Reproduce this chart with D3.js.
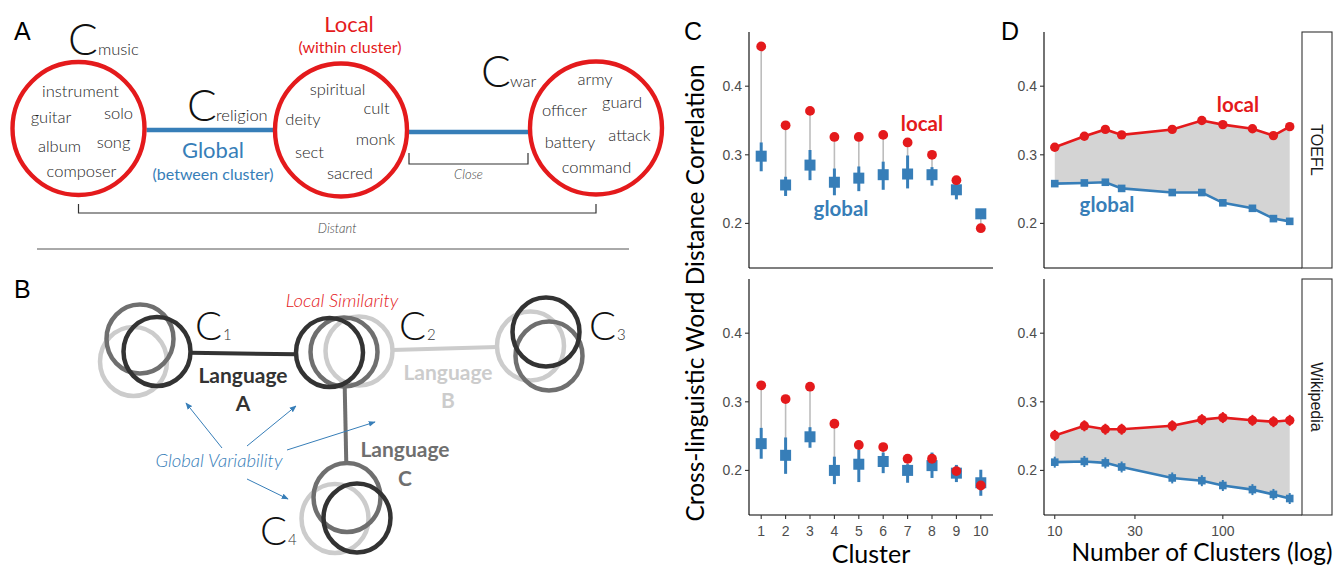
<!DOCTYPE html>
<meta charset="utf-8">
<script src="https://d3js.org/d3.v7.min.js"></script>
<style>
  body { margin: 0; background: #fff; }
  text { font-family: Lato, "Open Sans", sans-serif; }
  .tick text, .num { font-family: "Liberation Sans", Arial, sans-serif; }
</style>
<body>
<div id="fig"></div>
<script>
// ---------- data ----------
// panel C: per cluster correlations
const clusters = [1, 2, 3, 4, 5, 6, 7, 8, 9, 10];
const toeflLocal    = [0.458, 0.343, 0.364, 0.326, 0.326, 0.329, 0.318, 0.300, 0.263, 0.193];
const toeflGlobal   = [0.298, 0.256, 0.285, 0.260, 0.266, 0.271, 0.272, 0.271, 0.249, 0.214];
const toeflGlobalLo = [0.276, 0.240, 0.263, 0.241, 0.247, 0.249, 0.251, 0.255, 0.235, 0.208];
const toeflGlobalHi = [0.318, 0.268, 0.307, 0.280, 0.283, 0.290, 0.299, 0.282, 0.257, 0.220];
const wikiLocal     = [0.324, 0.304, 0.322, 0.268, 0.237, 0.234, 0.217, 0.217, 0.199, 0.178];
const wikiGlobal    = [0.239, 0.222, 0.249, 0.200, 0.209, 0.213, 0.200, 0.207, 0.196, 0.182];
const wikiGlobalLo  = [0.217, 0.195, 0.233, 0.180, 0.183, 0.196, 0.182, 0.189, 0.183, 0.163];
const wikiGlobalHi  = [0.262, 0.248, 0.263, 0.220, 0.230, 0.226, 0.209, 0.226, 0.208, 0.201];

// panel D: by number of clusters
const nClusters  = [10, 15, 20, 25, 50, 75, 100, 150, 200, 250];
const toeflLocalN  = [0.311, 0.327, 0.337, 0.329, 0.337, 0.350, 0.344, 0.338, 0.328, 0.341];
const toeflGlobalN = [0.258, 0.259, 0.260, 0.251, 0.245, 0.245, 0.230, 0.222, 0.207, 0.203];
const wikiLocalN   = [0.251, 0.265, 0.260, 0.260, 0.265, 0.274, 0.277, 0.273, 0.271, 0.273];
const wikiGlobalN  = [0.212, 0.213, 0.211, 0.205, 0.189, 0.185, 0.178, 0.172, 0.165, 0.159];
const wikiErrN     = [0.008, 0.008, 0.008, 0.008, 0.008, 0.008, 0.008, 0.008, 0.008, 0.008];

const yTicks = [0.2, 0.3, 0.4];
const xTicksN = [10, 30, 100];
const facets = ["TOEFL", "Wikipedia"];

// panel A / B words and labels
const musicWords    = ["instrument", "guitar", "solo", "album", "song", "composer"];
const religionWords = ["spiritual", "cult", "deity", "monk", "sect", "sacred"];
const warWords      = ["army", "officer", "guard", "battery", "attack", "command"];
const clusterNames  = ["music", "religion", "war"];
const languages     = ["A", "B", "C"];

const RED = "#e41a1c", BLUE = "#377eb8";

const svg = d3.select("#fig").append("svg")
  .attr("width", 1338).attr("height", 570);

// panel letters
[["A", 14, 40], ["B", 14, 298], ["C", 684, 40], ["D", 1001, 40]].forEach(([t, x, y]) =>
  svg.append("text").attr("class", "num").attr("x", x).attr("y", y)
    .attr("font-size", 25).text(t));

// ================= Panel A =================
const gA = svg.append("g");
const aCircles = [{ cx: 78.5, cy: 128.5 }, { cx: 341, cy: 130 }, { cx: 596, cy: 128 }];
const aR = 66;
// word offsets relative to circle centres
const aWordPos = [
  [[2, -31.5], [-27.5, -5.5], [40, -9.5], [-19, 23.5], [35, 19.5], [3, 48.5]],
  [[-3.5, -35], [35.5, -16], [-38, -5], [34.5, 15], [-31.5, 28], [9, 49]],
  [[-1, -43], [-31.5, -12], [26, -20], [-26, 20], [33.5, 13], [0.5, 45]]
];
const wordSets = [musicWords, religionWords, warWords];

// blue links
gA.append("line").attr("x1", aCircles[0].cx + aR + 2).attr("x2", aCircles[1].cx - aR - 2)
  .attr("y1", 130).attr("y2", 130).attr("stroke", BLUE).attr("stroke-width", 4.5);
gA.append("line").attr("x1", aCircles[1].cx + aR + 2).attr("x2", aCircles[2].cx - aR - 2)
  .attr("y1", 132).attr("y2", 132).attr("stroke", BLUE).attr("stroke-width", 4.5);

gA.selectAll("ellipse.cl").data(aCircles).join("ellipse")
  .attr("cx", d => d.cx).attr("cy", d => d.cy).attr("rx", aR).attr("ry", aR + 0.5)
  .attr("fill", "none").attr("stroke", RED).attr("stroke-width", 4.4);

wordSets.forEach((words, i) => {
  gA.selectAll(null).data(words).join("text")
    .attr("x", (d, j) => aCircles[i].cx + aWordPos[i][j][0])
    .attr("y", (d, j) => aCircles[i].cy + aWordPos[i][j][1])
    .attr("text-anchor", "middle").attr("font-size", 16.5).attr("font-weight", 300)
    .attr("fill", "#1e1e1e").text(d => d);
});

// cluster name labels  (big C + name)
const cLabelPos = [[68, 55, 98, 55], [187, 121, 216, 121], [481, 87, 510, 87]];
clusterNames.forEach((n, i) => {
  const p = cLabelPos[i];
  gA.append("text").attr("x", p[0]).attr("y", p[1]).attr("font-size", 44)
    .attr("font-weight", 300).attr("fill", "#111").text("C");
  gA.append("text").attr("x", p[2]).attr("y", p[3]).attr("font-size", 16.5)
    .attr("font-weight", 300).attr("fill", "#1e1e1e").text(n);
});

// Local / Global headings
gA.append("text").attr("x", 349).attr("y", 32).attr("text-anchor", "middle")
  .attr("font-size", 22).attr("fill", RED).text("Local");
gA.append("text").attr("x", 350).attr("y", 53).attr("text-anchor", "middle")
  .attr("font-size", 16).attr("fill", RED).text("(within cluster)");
gA.append("text").attr("x", 213).attr("y", 158).attr("text-anchor", "middle")
  .attr("font-size", 22).attr("fill", BLUE).text("Global");
gA.append("text").attr("x", 213).attr("y", 180).attr("text-anchor", "middle")
  .attr("font-size", 16).attr("fill", BLUE).text("(between cluster)");

// brackets
function bracket(x1, x2, y, h, label, ly) {
  gA.append("path").attr("d", `M${x1},${y - h}V${y}H${x2}V${y - h}`)
    .attr("fill", "none").attr("stroke", "#333").attr("stroke-width", 1.2);
  gA.append("text").attr("x", (x1 + x2) / 2).attr("y", ly).attr("text-anchor", "middle")
    .attr("font-size", 13).attr("font-style", "italic").attr("font-weight", 300)
    .attr("fill", "#444").text(label);
}
bracket(aCircles[1].cx + aR + 2, aCircles[2].cx - aR - 2, 164, 11, "Close", 179);
bracket(aCircles[0].cx, aCircles[2].cx, 213, 9, "Distant", 233);

// separator
svg.append("line").attr("x1", 37).attr("x2", 629).attr("y1", 249).attr("y2", 249)
  .attr("stroke", "#555").attr("stroke-width", 1);

// ================= Panel B =================
const gB = svg.append("g");
const langColor = { A: "#333333", B: "#cccccc", C: "#6f6f6f" };
const bR = 33;
// circle centres per cluster, per language
const bClusters = [
  { A: [157, 351.5], B: [133.5, 361.5], C: [140, 339] },
  { A: [329.5, 352.5], B: [359, 351], C: [344, 352] },
  { A: [546, 332], B: [530.5, 346], C: [549, 356] },
  { A: [357, 518], B: [335, 518.5], C: [347, 497.5] }
];
// language links: which clusters each language connects
const bLinks = [["A", 0, 1], ["B", 1, 2], ["C", 1, 3]];
bLinks.forEach(([l, i, j]) => {
  const p = bClusters[i][l], q = bClusters[j][l];
  const dx = q[0] - p[0], dy = q[1] - p[1], len = Math.hypot(dx, dy);
  const ux = dx / len, uy = dy / len;
  gB.append("line")
    .attr("x1", p[0] + ux * bR).attr("y1", p[1] + uy * bR + (l === "A" ? 1 : 0))
    .attr("x2", q[0] - ux * bR).attr("y2", q[1] - uy * bR + (l === "A" ? 2 : 0))
    .attr("stroke", langColor[l]).attr("stroke-width", 4);
});
const drawOrder = ["B", "C", "A"];
bClusters.forEach(c => {
  drawOrder.forEach(l => {
    gB.append("ellipse").attr("cx", c[l][0]).attr("cy", c[l][1])
      .attr("rx", bR + 0.5).attr("ry", bR + 1.5)
      .attr("fill", "none").attr("stroke", langColor[l]).attr("stroke-width", 4.5);
  });
});
// C1..C4 labels
const bLabelPos = [[195, 340], [399, 340], [589, 340], [260, 545]];
bLabelPos.forEach((p, i) => {
  const t = gB.append("text").attr("x", p[0]).attr("y", p[1]).attr("fill", "#111");
  t.append("tspan").attr("font-size", 40).attr("font-weight", 300).text("C");
  t.append("tspan").attr("font-size", 15).attr("font-weight", 300).attr("dx", 1)
    .attr("fill", "#333").text(String(i + 1));
});
// language labels
const langLabelPos = { A: [243, 383, 411], B: [448, 380, 408], C: [405, 457, 486] };
languages.forEach(l => {
  const p = langLabelPos[l];
  gB.append("text").attr("x", p[0]).attr("y", p[1]).attr("text-anchor", "middle")
    .attr("font-size", 21).attr("font-weight", 700).attr("fill", langColor[l]).text("Language");
  gB.append("text").attr("x", p[0]).attr("y", p[2]).attr("text-anchor", "middle")
    .attr("font-size", 21).attr("font-weight", 700).attr("fill", langColor[l]).text(l);
});
gB.append("text").attr("x", 342).attr("y", 307).attr("text-anchor", "middle")
  .attr("font-size", 18.5).attr("font-style", "italic").attr("font-weight", 300)
  .attr("fill", RED).text("Local Similarity");
gB.append("text").attr("x", 219).attr("y", 467).attr("text-anchor", "middle")
  .attr("font-size", 18.5).attr("font-style", "italic").attr("font-weight", 300)
  .attr("fill", BLUE).text("Global Variability");
// arrows
svg.append("defs").append("marker").attr("id", "ah").attr("viewBox", "0 0 10 10")
  .attr("refX", 9).attr("refY", 5).attr("markerWidth", 7).attr("markerHeight", 7)
  .attr("orient", "auto").append("path").attr("d", "M0,1L10,5L0,9z").attr("fill", BLUE);
const arrows = [[222, 448, 186, 403], [247, 446, 296, 406], [287, 450, 375, 422], [247, 479, 288, 499]];
gB.selectAll("line.arr").data(arrows).join("line")
  .attr("x1", d => d[0]).attr("y1", d => d[1]).attr("x2", d => d[2]).attr("y2", d => d[3])
  .attr("stroke", BLUE).attr("stroke-width", 1).attr("marker-end", "url(#ah)");

// ================= Panels C & D =================
const panelY = [[268, 32], [515, 279]];
const yDomain = [0.135, 0.479];

function yAxis(g, y, x0) {
  g.append("line").attr("x1", x0).attr("x2", x0).attr("y1", y.range()[0]).attr("y2", y.range()[1])
    .attr("stroke", "#000").attr("stroke-width", 1.1);
  yTicks.forEach(v => {
    g.append("line").attr("x1", x0 - 4).attr("x2", x0).attr("y1", y(v)).attr("y2", y(v))
      .attr("stroke", "#333").attr("stroke-width", 1.1);
    g.append("text").attr("class", "num").attr("x", x0 - 7).attr("y", y(v) + 5)
      .attr("text-anchor", "end").attr("font-size", 14).attr("fill", "#4d4d4d").text(v.toFixed(1));
  });
}

// ---- C ----
const xC = d3.scalePoint().domain(clusters).range([749, 993]).padding(0.5);
const cData = [
  { local: toeflLocal, global: toeflGlobal, lo: toeflGlobalLo, hi: toeflGlobalHi },
  { local: wikiLocal, global: wikiGlobal, lo: wikiGlobalLo, hi: wikiGlobalHi }
];
cData.forEach((s, p) => {
  const y = d3.scaleLinear().domain(yDomain).range(panelY[p]);
  const g = svg.append("g");
  const rows = clusters.map((c, i) => ({ c, l: s.local[i], g: s.global[i], lo: s.lo[i], hi: s.hi[i] }));
  g.selectAll("line.seg").data(rows).join("line")
    .attr("x1", d => xC(d.c)).attr("x2", d => xC(d.c)).attr("y1", d => y(d.l)).attr("y2", d => y(d.g))
    .attr("stroke", "#bdbdbd").attr("stroke-width", 1.6);
  g.selectAll("line.err").data(rows).join("line")
    .attr("x1", d => xC(d.c)).attr("x2", d => xC(d.c)).attr("y1", d => y(d.lo)).attr("y2", d => y(d.hi))
    .attr("stroke", BLUE).attr("stroke-width", 3);
  g.selectAll("rect").data(rows).join("rect")
    .attr("x", d => xC(d.c) - 5.5).attr("y", d => y(d.g) - 5.5).attr("width", 11).attr("height", 11)
    .attr("fill", BLUE);
  g.selectAll("circle").data(rows).join("circle")
    .attr("cx", d => xC(d.c)).attr("cy", d => y(d.l)).attr("r", 4.9).attr("fill", RED);
  yAxis(g, y, 749);
  g.append("line").attr("x1", 749).attr("x2", 993).attr("y1", panelY[p][0]).attr("y2", panelY[p][0])
    .attr("stroke", "#000").attr("stroke-width", 1.1);
  if (p === 1) {
    clusters.forEach(c => {
      g.append("line").attr("x1", xC(c)).attr("x2", xC(c)).attr("y1", panelY[p][0]).attr("y2", panelY[p][0] + 4)
        .attr("stroke", "#333").attr("stroke-width", 1.1);
      g.append("text").attr("class", "num").attr("x", xC(c)).attr("y", panelY[p][0] + 21)
        .attr("text-anchor", "middle").attr("font-size", 14).attr("fill", "#4d4d4d").text(c);
    });
  } else {
    g.append("text").attr("x", 922).attr("y", 131).attr("text-anchor", "middle")
      .attr("font-size", 20.5).attr("font-weight", 700).attr("fill", RED).text("local");
    g.append("text").attr("x", 841).attr("y", 216).attr("text-anchor", "middle")
      .attr("font-size", 20.5).attr("font-weight", 700).attr("fill", BLUE).text("global");
  }
});
svg.append("text").attr("x", 871).attr("y", 563).attr("text-anchor", "middle")
  .attr("font-size", 25).attr("fill", "#000").text("Cluster");
svg.append("text").attr("transform", "translate(704,293) rotate(-90)").attr("text-anchor", "middle")
  .attr("font-size", 24.5).attr("fill", "#000").text("Cross-linguistic Word Distance Correlation");

// ---- D ----
const xD = d3.scaleLog().domain([8.63, 295.8]).range([1044, 1302]);
const dData = [
  { local: toeflLocalN, global: toeflGlobalN, err: nClusters.map(() => 0) },
  { local: wikiLocalN, global: wikiGlobalN, err: wikiErrN }
];
dData.forEach((s, p) => {
  const y = d3.scaleLinear().domain(yDomain).range(panelY[p]);
  const g = svg.append("g");
  const rows = nClusters.map((n, i) => ({ n, l: s.local[i], g: s.global[i], e: s.err[i] }));
  g.append("path").datum(rows)
    .attr("d", d3.area().x(d => xD(d.n)).y0(d => y(d.g)).y1(d => y(d.l)))
    .attr("fill", "#d4d4d4");
  [["l", RED], ["g", BLUE]].forEach(([k, col]) => {
    g.append("path").datum(rows).attr("d", d3.line().x(d => xD(d.n)).y(d => y(d[k])))
      .attr("fill", "none").attr("stroke", col).attr("stroke-width", 2.6);
    g.selectAll(null).data(rows.filter(d => d.e > 0)).join("line")
      .attr("x1", d => xD(d.n)).attr("x2", d => xD(d.n))
      .attr("y1", d => y(d[k] - d.e)).attr("y2", d => y(d[k] + d.e))
      .attr("stroke", col).attr("stroke-width", 2);
  });
  g.selectAll("rect").data(rows).join("rect")
    .attr("x", d => xD(d.n) - 3.8).attr("y", d => y(d.g) - 3.8).attr("width", 7.6).attr("height", 7.6)
    .attr("fill", BLUE);
  g.selectAll("circle").data(rows).join("circle")
    .attr("cx", d => xD(d.n)).attr("cy", d => y(d.l)).attr("r", 4.7).attr("fill", RED);
  yAxis(g, y, 1044);
  g.append("line").attr("x1", 1044).attr("x2", 1302).attr("y1", panelY[p][0]).attr("y2", panelY[p][0])
    .attr("stroke", "#000").attr("stroke-width", 1.1);
  // strip
  g.append("rect").attr("x", 1302).attr("y", panelY[p][1]).attr("width", 30)
    .attr("height", panelY[p][0] - panelY[p][1]).attr("fill", "#fff").attr("stroke", "#333").attr("stroke-width", 1.1);
  g.append("text").attr("class", "num")
    .attr("transform", `translate(1310.5,${(panelY[p][0] + panelY[p][1]) / 2}) rotate(90)`)
    .attr("text-anchor", "middle").attr("font-size", 16).attr("fill", "#1a1a1a").text(facets[p]);
  if (p === 1) {
    xTicksN.forEach(n => {
      g.append("line").attr("x1", xD(n)).attr("x2", xD(n)).attr("y1", panelY[p][0]).attr("y2", panelY[p][0] + 4)
        .attr("stroke", "#333").attr("stroke-width", 1.1);
      g.append("text").attr("class", "num").attr("x", xD(n)).attr("y", panelY[p][0] + 21)
        .attr("text-anchor", "middle").attr("font-size", 14).attr("fill", "#4d4d4d").text(n);
    });
  } else {
    g.append("text").attr("x", 1238).attr("y", 112).attr("text-anchor", "middle")
      .attr("font-size", 20.5).attr("font-weight", 700).attr("fill", RED).text("local");
    g.append("text").attr("x", 1107).attr("y", 212).attr("text-anchor", "middle")
      .attr("font-size", 20.5).attr("font-weight", 700).attr("fill", BLUE).text("global");
  }
});
svg.append("text").attr("x", 1202).attr("y", 561).attr("text-anchor", "middle")
  .attr("font-size", 24.5).attr("fill", "#000").text("Number of Clusters (log)");
</script>
</body>
